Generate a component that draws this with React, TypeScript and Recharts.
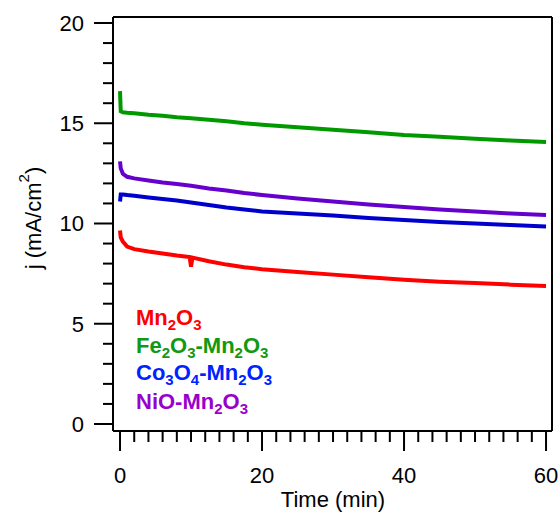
import { LineChart, Line, XAxis, YAxis, ReferenceLine } from "recharts"

// time (min) and current density j (mA/cm2)
const tMn = [0, 0.1, 0.4, 1, 2, 4, 6, 8, 9.8, 10, 10.2, 12.5, 15, 17.5, 20, 25, 30, 35, 40, 45, 50, 55, 60]
const jMn = [9.65, 9.3, 9.1, 8.85, 8.72, 8.6, 8.5, 8.4, 8.33, 7.85, 8.3, 8.12, 7.95, 7.82, 7.72, 7.58, 7.45, 7.32, 7.2, 7.1, 7.03, 6.95, 6.88]

const tFe = [0, 0.1, 0.4, 1, 2, 4, 6, 8, 10, 12.5, 15, 17.5, 20, 25, 30, 35, 40, 45, 50, 55, 60]
const jFe = [16.6, 15.6, 15.55, 15.52, 15.5, 15.42, 15.37, 15.3, 15.25, 15.17, 15.1, 15.0, 14.93, 14.8, 14.68, 14.55, 14.42, 14.33, 14.23, 14.14, 14.07]

const tCo = [0, 0.1, 0.4, 1, 2, 4, 6, 8, 10, 12.5, 15, 17.5, 20, 25, 30, 35, 40, 45, 50, 55, 60]
const jCo = [11.1, 11.45, 11.45, 11.42, 11.38, 11.3, 11.22, 11.15, 11.05, 10.92, 10.8, 10.7, 10.6, 10.5, 10.4, 10.28, 10.18, 10.08, 10.0, 9.92, 9.85]

const tNi = [0, 0.1, 0.4, 1, 2, 4, 6, 8, 10, 12.5, 15, 17.5, 20, 25, 30, 35, 40, 45, 50, 55, 60]
const jNi = [13.1, 12.75, 12.48, 12.33, 12.25, 12.15, 12.05, 11.97, 11.88, 11.75, 11.65, 11.52, 11.42, 11.25, 11.1, 10.95, 10.82, 10.7, 10.6, 10.5, 10.42]

const xTicks = [0, 2, 4, 6, 8, 10, 12, 14, 16, 18, 20, 22, 24, 26, 28, 30, 32, 34, 36, 38, 40, 42, 44, 46, 48, 50, 52, 54, 56, 58, 60]
const yTicks = [0, 1, 2, 3, 4, 5, 6, 7, 8, 9, 10, 11, 12, 13, 14, 15, 16, 17, 18, 19, 20]

const toRows = (t: number[], j: number[]) => t.map((v, i) => ({ t: v, j: j[i] }))

const font = "'Liberation Sans', Arial, sans-serif"

const XTick = (props: any) => {
    const { x, y, payload } = props
    const major = payload.value % 20 === 0
    return (
        <g>
            <line x1={x} x2={x} y1={y} y2={y + (major ? 20 : 11)} stroke="#000" strokeWidth={2} />
            {major && (
                <text x={x} y={y + 52} textAnchor="middle" fontSize={22} fontFamily={font} fill="#000">
                    {payload.value}
                </text>
            )}
        </g>
    )
}

const YTick = (props: any) => {
    const { x, y, payload } = props
    const major = payload.value % 5 === 0
    return (
        <g>
            <line x1={x - (major ? 19 : 10)} x2={x} y1={y} y2={y} stroke="#000" strokeWidth={2} />
            {major && (
                <text x={84} y={y + 8} textAnchor="end" fontSize={22} fontFamily={font} fill="#000">
                    {payload.value}
                </text>
            )}
        </g>
    )
}

const Formula = ({ parts, y, color }: { parts: [string, boolean][]; y: number; color: string }) => (
    <text x={136} y={y} fill={color} fontSize={22} fontWeight="bold" fontFamily={font}>
        {parts.map(([s, sub], i) => (
            <tspan key={i} fontSize={sub ? 15 : 22} dy={sub ? 5 : i > 0 && parts[i - 1][1] ? -5 : 0}>
                {s}
            </tspan>
        ))}
    </text>
)

export default function App() {
    return (
        <div style={{ position: "absolute", left: 0, top: 0, width: 560, height: 517, background: "#fff" }}>
            <LineChart width={560} height={517} margin={{ top: 17, right: 8, left: 0, bottom: 0 }}>
                <XAxis
                    dataKey="t"
                    type="number"
                    domain={[-0.99, 60.84]}
                    ticks={xTicks}
                    interval={0}
                    tickSize={0}
                    tickMargin={0}
                    tickLine={false}
                    tick={XTick}
                    height={86}
                    axisLine={{ stroke: "#000", strokeWidth: 2 }}
                    allowDataOverflow
                />
                <YAxis
                    type="number"
                    domain={[-0.35, 20.3]}
                    ticks={yTicks}
                    interval={0}
                    tickSize={0}
                    tickMargin={0}
                    tickLine={false}
                    tick={YTick}
                    width={113}
                    axisLine={{ stroke: "#000", strokeWidth: 2 }}
                    allowDataOverflow
                />
                <ReferenceLine y={20.3} stroke="#000" strokeWidth={2} />
                <ReferenceLine x={60.84} stroke="#000" strokeWidth={2} />
                <Line data={toRows(tMn, jMn)} dataKey="j" stroke="#ff0000" strokeWidth={4} dot={false} isAnimationActive={false} />
                <Line data={toRows(tFe, jFe)} dataKey="j" stroke="#009900" strokeWidth={4} dot={false} isAnimationActive={false} />
                <Line data={toRows(tCo, jCo)} dataKey="j" stroke="#0000cc" strokeWidth={4} dot={false} isAnimationActive={false} />
                <Line data={toRows(tNi, jNi)} dataKey="j" stroke="#6600cc" strokeWidth={4} dot={false} isAnimationActive={false} />
            </LineChart>
            <svg width={560} height={517} style={{ position: "absolute", left: 0, top: 0, pointerEvents: "none" }}>
                <text x={333} y={507} textAnchor="middle" fontSize={22} fontFamily={font} fill="#000">
                    Time (min)
                </text>
                <text transform="translate(41,218) rotate(-90)" textAnchor="middle" fontSize={22} fontFamily={font} fill="#000">
                    j (mA/cm<tspan fontSize={15} dy={-12}>2</tspan><tspan dy={12}>)</tspan>
                </text>
                <Formula y={325} color="#ff0000" parts={[["Mn", false], ["2", true], ["O", false], ["3", true]]} />
                <Formula y={352.5} color="#119911" parts={[["Fe", false], ["2", true], ["O", false], ["3", true], ["-Mn", false], ["2", true], ["O", false], ["3", true]]} />
                <Formula y={379.5} color="#0022ff" parts={[["Co", false], ["3", true], ["O", false], ["4", true], ["-Mn", false], ["2", true], ["O", false], ["3", true]]} />
                <Formula y={409} color="#9900cc" parts={[["NiO-Mn", false], ["2", true], ["O", false], ["3", true]]} />
            </svg>
        </div>
    )
}
